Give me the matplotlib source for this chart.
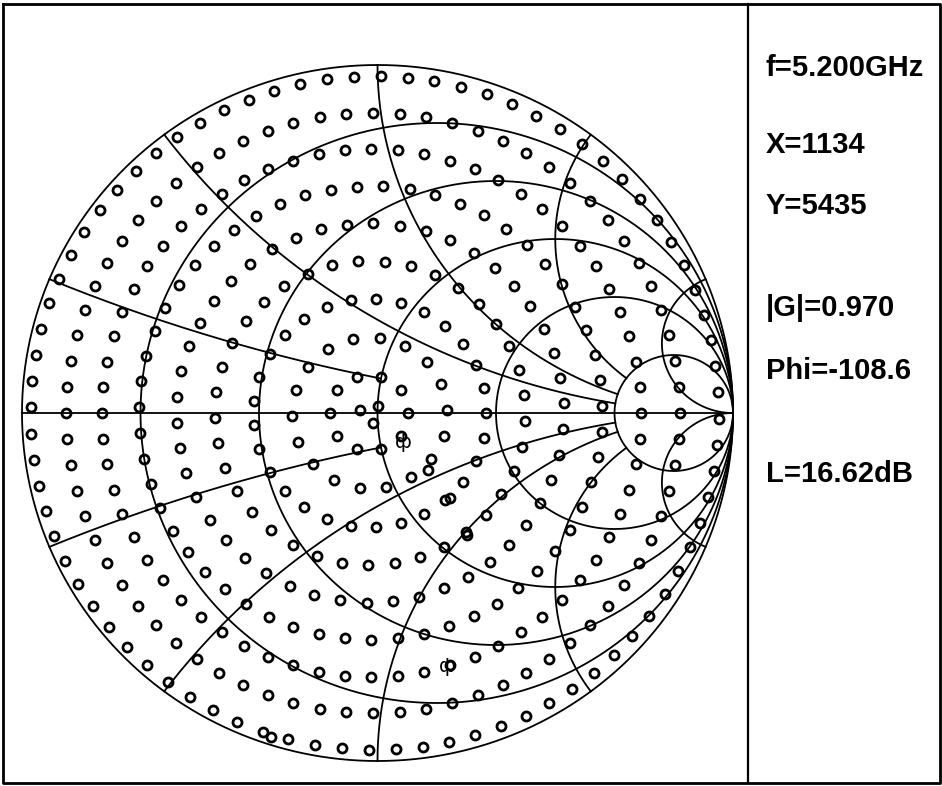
import numpy as np
import matplotlib
matplotlib.use("Agg")
from matplotlib import pyplot as plt

# readout panel on the right
labels = ["f=5.200GHz", "X=1134", "Y=5435", "|G|=0.970", "Phi=-108.6", "L=16.62dB"]
label_y = [68, 145, 206, 308, 371, 474]

# smith chart grid
r_circles = [0.2, 0.5, 1, 2, 5]
x_arcs = [0.2, 0.5, 1, 2, 5]
x_arc_end = [1, 5, 5, 5, 1e4]   # resistance where each reactance arc stops

# load-pull points, ring by ring: |G|, centre offset, count, phase (deg)
ring_rho = [0.968, 0.863, 0.758, 0.652, 0.545, 0.437, 0.328, 0.218, 0.11, 0.03]
ring_c = [-0.008, -0.013, -0.017, -0.019, -0.021, -0.021, -0.022, -0.022, -0.024, -0.02]
ring_n = [80, 72, 64, 55, 46, 37, 29, 18, 10, 3]
ring_phase = [3.5, 0, 0, 1.8, 2.9, 6.7, 0, 2.5, 0, -75]

# a few doubled points
extra_u = [0.142, 0.204, 0.252, -0.300]
extra_v = [-0.164, -0.244, -0.351, -0.930]

fig = plt.figure(figsize=(9.42, 7.86), dpi=100)
ax0 = fig.add_axes([0, 0, 1, 1])
ax0.set_xlim(0, 942)
ax0.set_ylim(786, 0)
ax0.axis('off')

# frame + divider
ax0.plot([3, 940, 940, 3, 3], [4, 4, 783, 783, 4], color='black', lw=2.0)
ax0.plot([748, 748], [4, 783], color='black', lw=1.6)

for s, y in zip(labels, label_y):
    ax0.text(766, y, s, fontsize=21, family='Liberation Sans', weight='bold',
             va='center', ha='left')

# odd glyphs left on the plot
ax0.text(403, 443, 'ф', fontsize=14, ha='center', va='center')
ax0.text(447, 667, 'ф', fontsize=14, ha='center', va='center')

ax = fig.add_axes([22/942, 25/786, 711/942, 696/786])
ax.set_xlim(-1, 1)
ax.set_ylim(-1, 1)
ax.axis('off')
ax.patch.set_alpha(0)

lw = 1.3
th = np.linspace(0, 2*np.pi, 721)
# outer circle and resistance circles
ax.plot(np.cos(th), np.sin(th), color='black', lw=lw, clip_on=False)
for r in r_circles:
    c = r/(1+r)
    rad = 1/(1+r)
    ax.plot(c + rad*np.cos(th), rad*np.sin(th), color='black', lw=lw, clip_on=False)

# reactance arcs
for xv, rend in zip(x_arcs, x_arc_end):
    if rend > 5:
        rr = np.concatenate([np.linspace(0, 5, 400), np.geomspace(5, rend, 300)])
    else:
        rr = np.linspace(0, rend, 400)
    g = (rr + 1j*xv - 1)/(rr + 1j*xv + 1)
    ax.plot(g.real, g.imag, color='black', lw=lw, clip_on=False)
    ax.plot(g.real, -g.imag, color='black', lw=lw, clip_on=False)

ax.plot([-1, 1], [0, 0], color='black', lw=lw, clip_on=False)

# points
pu, pv = [], []
for rho, c, n, ph in zip(ring_rho, ring_c, ring_n, ring_phase):
    a = np.deg2rad(ph + np.arange(n)*360.0/n)
    pu.extend(c + rho*np.cos(a))
    pv.extend(rho*np.sin(a))
pu.extend(extra_u)
pv.extend(extra_v)
ax.plot(pu, pv, 'o', ms=6.5, mfc='none', mec='black', mew=2.0, clip_on=False)

fig.savefig('out.png', dpi=100)
